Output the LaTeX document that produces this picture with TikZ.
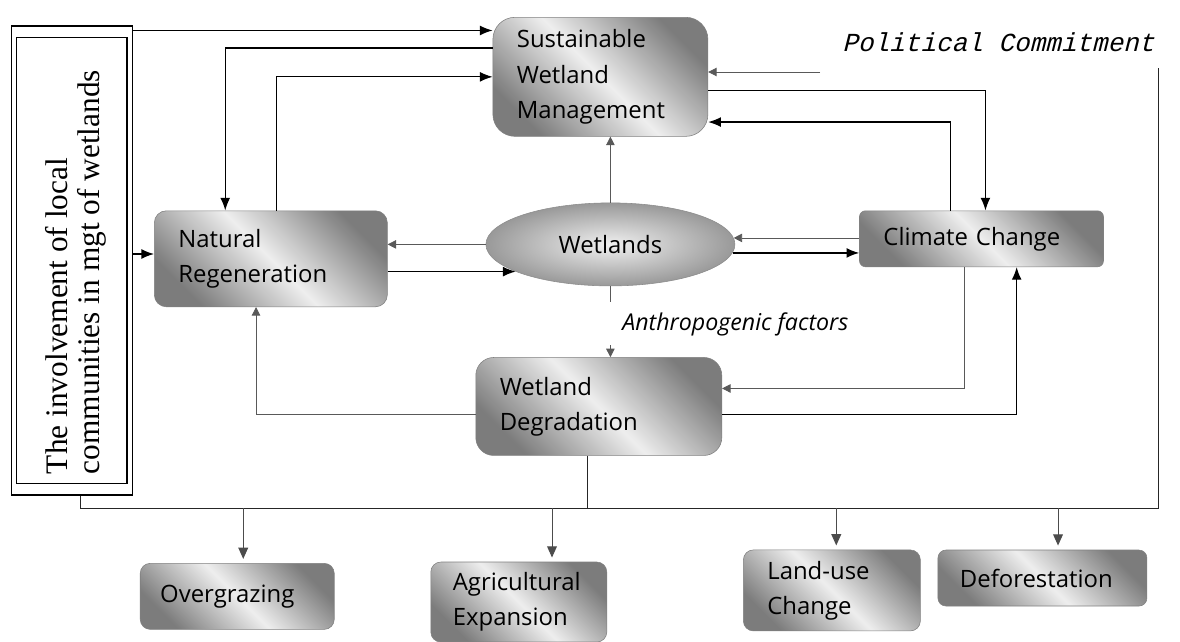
\documentclass[tikz,border=0pt]{standalone}
\usepackage{fontspec}
\setmainfont{Liberation Serif}
\setsansfont{Open Sans}
\setmonofont{Liberation Mono}
\newfontfamily\politfont{Liberation Mono}[FakeSlant=0.25]
\usetikzlibrary{
  shapes.geometric,
  positioning,
  calc,
  arrows.meta}
\tikzset{
  strong_arrow/.style={-{Latex[length=9pt, width=7pt]}, draw=black, line width=0.9pt},
  light_arrow/.style={-{Triangle[length=6pt, width=6pt]}, draw=black!65, line width=0.6pt},
  light_line/.style={draw=black!65, line width=0.6pt},
  bus_line/.style={draw=black!85, line width=0.6pt},
  down_arrow/.style={-{Triangle[length=8pt, width=7pt]}, draw=black!70, line width=0.7pt, shorten >=3pt},
  inv_frame/.style={draw=black, line width=0.9pt}
}
\definecolor{boxdark}{RGB}{124,124,124}
\definecolor{boxlight}{RGB}{238,238,238}
\tikzset{
  %% procbox : a shaded box of the scheme
  procbox/.style={
    rectangle,
    rounded corners=0.3cm,
    draw=black!50,
    top color=boxdark,
    bottom color=boxdark,
    middle color=boxlight,
    shading angle=-45,
    inner xsep=0.6cm,
    inner ysep=0pt,
    align=left,
    font=\sffamily\fontsize{17pt}{25pt}\selectfont
  },
  %% wetland : the central ellipse
  wetland/.style={
    ellipse,
    draw=black!45,
    inner color=black!6,
    outer color=black!40,
    minimum width=6.225cm,
    minimum height=2.075cm,
    font=\sffamily\fontsize{17pt}{25pt}\selectfont
  },
  %% invbox : outer frame on the left (inner frame drawn apart)
  invbox/.style={
    rectangle,
    inv_frame,
    minimum width=3.025cm,
    minimum height=11.725cm,
    inner sep=0pt
  },
  invtext/.style={
    rotate=90,
    align=left,
    inner sep=0pt,
    font=\rmfamily\fontsize{22.3pt}{22.6pt}\selectfont
  },
  politic/.style={
    anchor=west,
    inner sep=0pt,
    font=\politfont\fontsize{18.5pt}{20pt}\selectfont
  },
  factor/.style={
    anchor=west,
    inner sep=0pt,
    font=\sffamily\itshape\fontsize{16.5pt}{18pt}\selectfont
  }
}

\begin{document}
\begin{tikzpicture}
  [x=1cm,
  y=-1cm]
  \useasboundingbox (0, 0) rectangle (29.5, 16.05);

  %% Central part
  \node (wet) [wetland] at (15.26, 6.11) {Wetlands};

  \node (sust) [above=1.65cm of wet, xshift=-0.25cm, procbox,
    text width=4.175cm, minimum height=2.975cm, rounded corners=0.55cm]{%
    Sustainable\\Wetland\\Management
  };

  \node (nat) [left=2.45cm of wet, yshift=-0.36cm, procbox,
    text width=4.625cm, minimum height=2.4cm]{%
    Natural\\Regeneration
  };

  \node (clim) [right=3.1cm of wet, yshift=0.14cm, procbox,
    text width=4.9cm, minimum height=1.4cm, rounded corners=0.15cm]{%
    Climate Change
  };

  \node (deg) [below=1.775cm of wet, xshift=-0.29cm, procbox,
    text width=4.95cm, minimum height=2.45cm, rounded corners=0.45cm]{%
    Wetland\\Degradation
  };

  %% Causes
  \node (over) [below=6.4cm of nat, xshift=-0.84cm, procbox,
    text width=3.85cm, minimum height=1.65cm, inner xsep=0.5cm, rounded corners=0.25cm]{%
    Overgrazing
  };

  \node (agri) [below=2.65cm of deg, xshift=-2.0cm, procbox,
    text width=3.3cm, minimum height=2.0cm, inner xsep=0.55cm, rounded corners=0.25cm]{%
    Agricultural\\Expansion
  };

  \node (land) [right=3.4cm of agri, yshift=0.29cm, procbox,
    text width=3.225cm, minimum height=2.025cm, rounded corners=0.25cm]{%
    Land-use\\Change
  };

  \node (defo) [right=0.425cm of land, yshift=0.31cm, procbox,
    text width=4.125cm, minimum height=1.4cm, inner xsep=0.55cm, rounded corners=0.2cm]{%
    Deforestation
  };

  %% Local communities
  \node (inv) [left=0.525cm of nat, yshift=-0.04cm, invbox]{};
  \draw [inv_frame] ([xshift=0.14cm, yshift=-0.3cm]inv.north west)
    rectangle ([xshift=-0.15cm, yshift=0.3cm]inv.south east);
  \node (invtext) [xshift=0.1cm, yshift=-0.29cm, invtext] at (inv){%
    The involvement of local\\communities in mgt of wetlands
  };

  %% Labels
  \node (polit) [politic] at (21.05, 1.05) {Political Commitment};
  \node (anthro) [factor] at (15.55, 8.12) {Anthropogenic factors};

  \coordinate (polin) at (20.5, 1.8);
  \coordinate (polout) at (28.95, 1.7);
  \coordinate (busr) at (28.95, 12.7);

  %% Connections
  \draw [strong_arrow] ([yshift=-0.13cm]inv.north east) -- ([yshift=-0.13cm]inv.north east -| sust.west);
  \draw [strong_arrow] ([yshift=0.12cm]nat.west -| inv.east) -- ([yshift=0.12cm]nat.west);
  \draw [strong_arrow] ([yshift=0.72cm]sust.west) -| ([xshift=-1.14cm]nat.north);
  \draw [strong_arrow] ([xshift=0.14cm]nat.north) |- (sust.west);
  \draw [light_arrow] (polin) -- (polin -| sust.east);
  \draw [strong_arrow] ([yshift=-0.34cm]sust.east) -| ([xshift=0.1cm]clim.north);
  \draw [strong_arrow] ([xshift=-0.78cm]clim.north) |- ([yshift=-1.13cm]sust.east);

  \draw [light_arrow] (wet.north) -- (wet.north |- sust.south);
  \draw [light_arrow] (wet.west) -- (wet.west -| nat.east);
  \draw [strong_arrow] (wet.196 -| nat.east) -- (wet.196);
  \draw [light_arrow] (wet.3 -| clim.west) -- (wet.3);
  \draw [strong_arrow] (wet.-4) -- (wet.-4 -| clim.west);

  \draw [light_line] (wet.south) -- ([yshift=-0.4cm]wet.south);
  \draw [light_arrow] ([yshift=0.3cm]deg.north -| wet.south) -- (deg.north -| wet.south);

  \draw [light_arrow] ([yshift=-0.2cm]deg.west) -| ([xshift=-0.37cm]nat.south);
  \draw [light_arrow] ([xshift=-0.43cm]clim.south) |- ([yshift=0.45cm]deg.east);
  \draw [strong_arrow] ([yshift=-0.2cm]deg.east) -| ([xshift=0.88cm]clim.south);

  %% Bottom line to the causes
  \draw [bus_line] ([xshift=0.21cm]inv.south) |- (busr) -- (polout);
  \draw [bus_line] ([xshift=-0.28cm]deg.south) -- ([xshift=-0.28cm]deg.south |- busr);
  \draw [down_arrow] ([xshift=0.15cm]over.north |- busr) -- ([xshift=0.15cm]over.north);
  \draw [down_arrow] ([xshift=0.83cm]agri.north |- busr) -- ([xshift=0.83cm]agri.north);
  \draw [down_arrow] ([xshift=0.11cm]land.north |- busr) -- ([xshift=0.11cm]land.north);
  \draw [down_arrow] ([xshift=0.39cm]defo.north |- busr) -- ([xshift=0.39cm]defo.north);

\end{tikzpicture}
\end{document}
